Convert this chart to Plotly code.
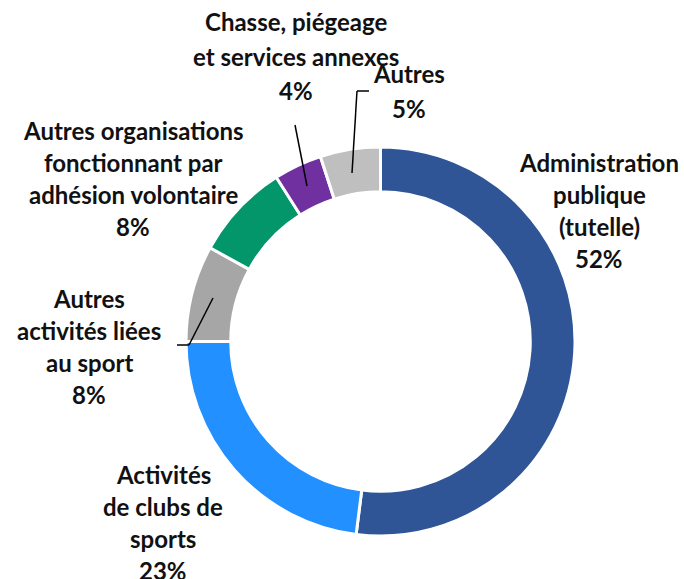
import plotly.graph_objects as go

categories = ["Administration publique (tutelle)", "Activités de clubs de sports",
              "Autres activités liées au sport",
              "Autres organisations fonctionnant par adhésion volontaire",
              "Chasse, piégeage et services annexes", "Autres"]
values = [52, 23, 8, 8, 4, 5]
colors = ["#2F5597", "#2290FF", "#A6A6A6", "#03966B", "#7030A0", "#BFBFBF"]

# label lines, center x (px), first line y (px)
label_lines = [
    ["Administration", "publique", "(tutelle)", "52%"],
    ["Activités", "de clubs de", "sports", "23%"],
    ["Autres", "activités liées", "au sport", "8%"],
    ["Autres organisations", "fonctionnant par", "adhésion volontaire", "8%"],
    ["Chasse, piégeage", "et services annexes", "4%"],
    ["Autres", "5%"],
]
label_x = [599, 163, 89, 133, 296, 409]
label_y = [162, 474, 298, 130, 22, 74]
line_step = [32, 32, 32, 32, 34, 34]

W, H = 684, 579
cx, cy, R = 380.5, 341.5, 194.5

fig = go.Figure(go.Pie(
    labels=categories, values=values, sort=False, direction="clockwise",
    rotation=0, hole=0.77, textinfo="none", hoverinfo="label+percent",
    marker=dict(colors=colors, line=dict(color="white", width=3)),
    domain=dict(x=[(cx - R) / W, (cx + R) / W],
                y=[(H - cy - R) / H, (H - cy + R) / H]),
))

annotations = []
for lines, x, y0, st in zip(label_lines, label_x, label_y, line_step):
    for i, t in enumerate(lines):
        annotations.append(dict(
            text=t, x=x / W, y=1 - (y0 + i * st) / H, xref="paper", yref="paper",
            showarrow=False, xanchor="center", yanchor="middle",
            font=dict(family="Lato", size=24, color="#111111", weight="bold"),
        ))

# leader lines (pixel polylines)
leaders = [
    [(295, 125), (307, 186)],
    [(369, 91), (357, 91), (352, 173)],
    [(177, 345), (189, 345), (213, 298)],
]
shapes = []
for pts in leaders:
    for (x0, y0), (x1, y1) in zip(pts[:-1], pts[1:]):
        shapes.append(dict(type="line", xref="paper", yref="paper",
                           x0=x0 / W, y0=1 - y0 / H, x1=x1 / W, y1=1 - y1 / H,
                           line=dict(color="black", width=1.5)))

fig.update_layout(
    width=W, height=H, margin=dict(l=0, r=0, t=0, b=0),
    paper_bgcolor="white", plot_bgcolor="white", showlegend=False,
    annotations=annotations, shapes=shapes,
)
fig.write_html("out.html", config={"displayModeBar": False},
               post_script="document.body.style.margin='0';document.body.style.overflow='hidden';")
